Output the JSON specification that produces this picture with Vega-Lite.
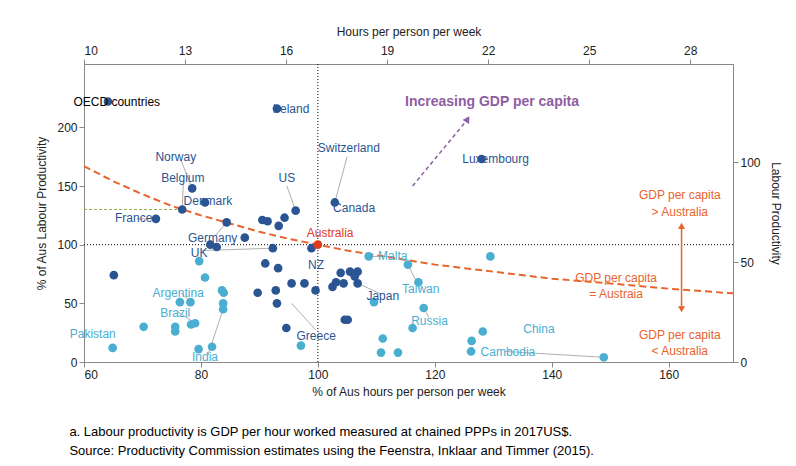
{
  "$schema": "https://vega.github.io/schema/vega-lite/v6.json",
  "width": 649,
  "height": 298,
  "autosize": "none",
  "padding": {"left": 84, "top": 64, "right": 63, "bottom": 104},
  "config": {
    "font": "Liberation Sans",
    "view": {"stroke": "#888"},
    "axis": {"grid": false, "labelFontSize": 12, "titleFontSize": 12, "titleFontWeight": "normal", "domainColor": "#888", "tickColor": "#888", "labelColor": "#222", "titleColor": "#222"}
  },
  "title": {"text": "Labour productivity and hours worked per head of populationᵃ", "fontSize": 14, "fontWeight": "bold", "offset": 34, "anchor": "middle"},
  "datasets": {
    "pts": [
      {"x": 93, "y": 216, "g": "oecd"}, {"x": 128, "y": 173, "g": "oecd"}, {"x": 78.5, "y": 148, "g": "oecd"},
      {"x": 76.8, "y": 130, "g": "oecd"}, {"x": 80.7, "y": 136, "g": "oecd"}, {"x": 72.3, "y": 122, "g": "oecd"},
      {"x": 96.2, "y": 129, "g": "oecd"}, {"x": 102.9, "y": 136, "g": "oecd"}, {"x": 84.4, "y": 119, "g": "oecd"},
      {"x": 90.5, "y": 121, "g": "oecd"}, {"x": 91.4, "y": 120, "g": "oecd"}, {"x": 94.3, "y": 123, "g": "oecd"},
      {"x": 93.3, "y": 116, "g": "oecd"}, {"x": 87.5, "y": 106, "g": "oecd"}, {"x": 81.6, "y": 100, "g": "oecd"},
      {"x": 82.7, "y": 98, "g": "oecd"}, {"x": 92.3, "y": 97, "g": "oecd"}, {"x": 98.9, "y": 97, "g": "oecd"},
      {"x": 91.0, "y": 84, "g": "oecd"}, {"x": 93.2, "y": 80, "g": "oecd"}, {"x": 89.7, "y": 59, "g": "oecd"},
      {"x": 92.8, "y": 61, "g": "oecd"}, {"x": 95.5, "y": 67, "g": "oecd"}, {"x": 97.7, "y": 67, "g": "oecd"},
      {"x": 99.6, "y": 61, "g": "oecd"}, {"x": 102.5, "y": 64, "g": "oecd"}, {"x": 103.1, "y": 68, "g": "oecd"},
      {"x": 103.9, "y": 76, "g": "oecd"}, {"x": 104.4, "y": 67, "g": "oecd"}, {"x": 105.5, "y": 77, "g": "oecd"},
      {"x": 106.3, "y": 73, "g": "oecd"}, {"x": 106.8, "y": 77, "g": "oecd"}, {"x": 106.8, "y": 67, "g": "oecd"},
      {"x": 104.6, "y": 36, "g": "oecd"}, {"x": 105.1, "y": 36, "g": "oecd"}, {"x": 94.6, "y": 29, "g": "oecd"},
      {"x": 93.0, "y": 50, "g": "oecd"}, {"x": 65.1, "y": 74, "g": "oecd"},
      {"x": 76.4, "y": 51, "g": "dev"}, {"x": 78.2, "y": 51, "g": "dev"}, {"x": 78.3, "y": 32, "g": "dev"},
      {"x": 75.6, "y": 30, "g": "dev"}, {"x": 75.6, "y": 26, "g": "dev"}, {"x": 70.2, "y": 30, "g": "dev"},
      {"x": 64.9, "y": 12, "g": "dev"}, {"x": 81.9, "y": 13, "g": "dev"}, {"x": 79.6, "y": 11, "g": "dev"},
      {"x": 79.7, "y": 86, "g": "dev"}, {"x": 80.7, "y": 72, "g": "dev"}, {"x": 79.0, "y": 33, "g": "dev"},
      {"x": 83.6, "y": 61, "g": "dev"}, {"x": 83.9, "y": 59, "g": "dev"}, {"x": 83.8, "y": 50, "g": "dev"},
      {"x": 83.8, "y": 45, "g": "dev"}, {"x": 97.1, "y": 14, "g": "dev"}, {"x": 108.7, "y": 90, "g": "dev"},
      {"x": 115.4, "y": 83, "g": "dev"}, {"x": 117.2, "y": 68, "g": "dev"}, {"x": 109.6, "y": 51, "g": "dev"},
      {"x": 116.2, "y": 29, "g": "dev"}, {"x": 118.1, "y": 46, "g": "dev"}, {"x": 111.1, "y": 20, "g": "dev"},
      {"x": 110.8, "y": 8, "g": "dev"}, {"x": 113.7, "y": 8, "g": "dev"}, {"x": 128.2, "y": 26, "g": "dev"},
      {"x": 126.3, "y": 18, "g": "dev"}, {"x": 126.2, "y": 9, "g": "dev"}, {"x": 148.9, "y": 4, "g": "dev"},
      {"x": 129.5, "y": 90, "g": "dev"}
    ],
    "labels": [
      {"t": "Ireland", "x": 95.4, "y": 216, "c": "#2b5592", "a": "left"},
      {"t": "Luxembourg", "x": 130.4, "y": 173, "c": "#2b5592", "a": "left"},
      {"t": "Norway", "x": 75.7, "y": 175, "c": "#2b5592", "a": "right"},
      {"t": "Belgium", "x": 76.9, "y": 157, "c": "#2b5592", "a": "right"},
      {"t": "Denmark", "x": 81.2, "y": 137, "c": "#2b5592", "a": "left"},
      {"t": "France", "x": 68.5, "y": 123, "c": "#2b5592", "a": "right"},
      {"t": "US", "x": 94.7, "y": 157, "c": "#2b5592", "a": "center"},
      {"t": "Switzerland", "x": 105.3, "y": 182, "c": "#2b5592", "a": "center"},
      {"t": "Canada", "x": 106.2, "y": 131, "c": "#2b5592", "a": "left"},
      {"t": "Germany", "x": 82, "y": 106, "c": "#2b5592", "a": "right"},
      {"t": "Australia", "x": 102.1, "y": 110, "c": "#e03a1e", "a": "left"},
      {"t": "UK", "x": 79.7, "y": 93, "c": "#2b5592", "a": "right"},
      {"t": "NZ", "x": 99.7, "y": 83, "c": "#2b5592", "a": "center"},
      {"t": "Malta", "x": 112.8, "y": 90, "c": "#4aaed1", "a": "left"},
      {"t": "Taiwan", "x": 117.6, "y": 62, "c": "#4aaed1", "a": "left"},
      {"t": "Japan", "x": 111.1, "y": 56, "c": "#2b5592", "a": "left"},
      {"t": "Russia", "x": 119.1, "y": 35, "c": "#4aaed1", "a": "left"},
      {"t": "Argentina", "x": 76.1, "y": 59, "c": "#4aaed1", "a": "right"},
      {"t": "Brazil", "x": 75.6, "y": 42, "c": "#4aaed1", "a": "right"},
      {"t": "Pakistan", "x": 61.5, "y": 24, "c": "#4aaed1", "a": "left"},
      {"t": "India", "x": 80.7, "y": 4.5, "c": "#4aaed1", "a": "right"},
      {"t": "Greece", "x": 99.7, "y": 22, "c": "#2b5592", "a": "center"},
      {"t": "China", "x": 137.8, "y": 28, "c": "#4aaed1", "a": "left"},
      {"t": "Cambodia", "x": 132.5, "y": 8.5, "c": "#4aaed1", "a": "left"},
      {"t": "OECD countries", "x": 65.6, "y": 222, "c": "#000000", "a": "left"},
      {"t": "GDP per capita", "x": 161.9, "y": 142, "c": "#e8642c", "a": "center"},
      {"t": " > Australia", "x": 161.9, "y": 128, "c": "#e8642c", "a": "center"},
      {"t": "GDP per capita", "x": 151, "y": 72, "c": "#e8642c", "a": "center"},
      {"t": "= Austraia", "x": 151, "y": 58, "c": "#e8642c", "a": "center"},
      {"t": "GDP per capita", "x": 161.9, "y": 23, "c": "#e8642c", "a": "center"},
      {"t": "< Australia", "x": 161.9, "y": 9, "c": "#e8642c", "a": "center"}
    ],
    "leaders": [
      {"x": 76.5, "y": 173, "x2": 78.5, "y2": 148},
      {"x": 77, "y": 154, "x2": 76.8, "y2": 130},
      {"x": 94.7, "y": 150, "x2": 96.2, "y2": 129},
      {"x": 105, "y": 175, "x2": 102.9, "y2": 136},
      {"x": 69, "y": 122, "x2": 72.3, "y2": 122},
      {"x": 82.5, "y": 108, "x2": 84.4, "y2": 119},
      {"x": 80.2, "y": 95, "x2": 92.3, "y2": 97},
      {"x": 76.6, "y": 59, "x2": 78.2, "y2": 51},
      {"x": 76, "y": 43, "x2": 79, "y2": 33},
      {"x": 81.2, "y": 6, "x2": 83.8, "y2": 45},
      {"x": 99.7, "y": 27, "x2": 95.5, "y2": 50},
      {"x": 110.8, "y": 58, "x2": 106.8, "y2": 67},
      {"x": 112.3, "y": 90, "x2": 108.7, "y2": 90},
      {"x": 119, "y": 38, "x2": 118.1, "y2": 46},
      {"x": 117.5, "y": 62, "x2": 115.4, "y2": 83},
      {"x": 132, "y": 9, "x2": 148.9, "y2": 4}
    ],
    "curve": [
      {"x": 60, "y": 167}, {"x": 65, "y": 154}, {"x": 70, "y": 143}, {"x": 75, "y": 133}, {"x": 80, "y": 125},
      {"x": 85, "y": 118}, {"x": 90, "y": 111}, {"x": 95, "y": 105}, {"x": 100, "y": 100}, {"x": 105, "y": 95},
      {"x": 110, "y": 91}, {"x": 115, "y": 87}, {"x": 120, "y": 83}, {"x": 130, "y": 77}, {"x": 140, "y": 71},
      {"x": 150, "y": 67}, {"x": 160, "y": 62.5}, {"x": 171, "y": 58.5}
    ]
  },
  "layer": [
    {
      "layer": [
        {
          "data": {"values": [{"x": 60, "x2": 171, "y": 100}]},
          "mark": {"type": "rule", "color": "#000", "strokeDash": [1, 2], "strokeWidth": 1},
          "encoding": {
            "x": {"field": "x", "type": "quantitative", "scale": {"domain": [60, 171], "nice": false}, "axis": {"values": [60, 80, 100, 120, 140, 160], "title": "% of Aus hours per person per week", "titlePadding": 6}},
            "x2": {"field": "x2"},
            "y": {"field": "y", "type": "quantitative", "scale": {"domain": [0, 254], "nice": false}, "axis": {"values": [0, 50, 100, 150, 200], "title": "% of Aus Labour Productivity", "titlePadding": 8}}
          }
        },
        {
          "data": {"values": [{"x": 100, "y": 0, "y2": 254}]},
          "mark": {"type": "rule", "color": "#000", "strokeDash": [1, 2]},
          "encoding": {"x": {"field": "x", "type": "quantitative"}, "y": {"field": "y", "type": "quantitative"}, "y2": {"field": "y2"}}
        },
        {
          "data": {"values": [{"x": 60, "x2": 76.8, "y": 130}]},
          "mark": {"type": "rule", "color": "#8db04a", "strokeDash": [3, 2]},
          "encoding": {"x": {"field": "x", "type": "quantitative"}, "x2": {"field": "x2"}, "y": {"field": "y", "type": "quantitative"}}
        },
        {
          "data": {"name": "curve"},
          "mark": {"type": "line", "color": "#e8642c", "strokeDash": [7, 4], "strokeWidth": 2},
          "encoding": {"x": {"field": "x", "type": "quantitative"}, "y": {"field": "y", "type": "quantitative"}}
        },
        {
          "data": {"name": "leaders"},
          "mark": {"type": "rule", "color": "#999", "strokeWidth": 0.8},
          "encoding": {"x": {"field": "x", "type": "quantitative"}, "y": {"field": "y", "type": "quantitative"}, "x2": {"field": "x2"}, "y2": {"field": "y2"}}
        },
        {
          "data": {"name": "pts"},
          "mark": {"type": "circle", "size": 75, "opacity": 1},
          "encoding": {
            "x": {"field": "x", "type": "quantitative"},
            "y": {"field": "y", "type": "quantitative"},
            "color": {"field": "g", "type": "nominal", "scale": {"domain": ["oecd", "dev"], "range": ["#2b5592", "#4aaed1"]}, "legend": null}
          }
        },
        {
          "data": {"values": [{"x": 100, "y": 100, "c": "#e03a1e"}, {"x": 64.1, "y": 222, "c": "#2b5592"}]},
          "mark": {"type": "circle", "size": 75, "opacity": 1},
          "encoding": {"x": {"field": "x", "type": "quantitative"}, "y": {"field": "y", "type": "quantitative"}, "color": {"field": "c", "type": "nominal", "scale": null}}
        },
        {
          "data": {"name": "labels"},
          "mark": {"type": "text", "fontSize": 12, "baseline": "middle"},
          "encoding": {
            "x": {"field": "x", "type": "quantitative"},
            "y": {"field": "y", "type": "quantitative"},
            "text": {"field": "t"},
            "align": {"field": "a", "type": "nominal", "scale": null},
            "color": {"field": "c", "type": "nominal", "scale": null}
          }
        },
        {
          "data": {"values": [{"x": 114.9, "y": 222, "t": "Increasing GDP per capita"}]},
          "mark": {"type": "text", "fontSize": 14, "fontWeight": "bold", "color": "#8e5ea2", "align": "left"},
          "encoding": {"x": {"field": "x", "type": "quantitative"}, "y": {"field": "y", "type": "quantitative"}, "text": {"field": "t"}}
        },
        {
          "data": {"values": [{"x": 116.2, "y": 150, "x2": 125.3, "y2": 205}]},
          "mark": {"type": "rule", "color": "#8e5ea2", "strokeDash": [4, 3], "strokeWidth": 1.5},
          "encoding": {"x": {"field": "x", "type": "quantitative"}, "y": {"field": "y", "type": "quantitative"}, "x2": {"field": "x2"}, "y2": {"field": "y2"}}
        },
        {
          "data": {"values": [{"x": 125.6, "y": 207, "a": 31}]},
          "mark": {"type": "point", "shape": "triangle-up", "filled": true, "color": "#8e5ea2", "size": 60, "opacity": 1},
          "encoding": {"x": {"field": "x", "type": "quantitative"}, "y": {"field": "y", "type": "quantitative"}, "angle": {"field": "a", "type": "quantitative", "scale": null}}
        },
        {
          "data": {"values": [{"x": 162.2, "y": 46, "y2": 116}]},
          "mark": {"type": "rule", "color": "#e8642c", "strokeWidth": 1.5},
          "encoding": {"x": {"field": "x", "type": "quantitative"}, "y": {"field": "y", "type": "quantitative"}, "y2": {"field": "y2"}}
        },
        {
          "data": {"values": [{"x": 162.2, "y": 116, "s": "triangle-up"}, {"x": 162.2, "y": 45, "s": "triangle-down"}]},
          "mark": {"type": "point", "filled": true, "color": "#e8642c", "size": 50, "opacity": 1},
          "encoding": {"x": {"field": "x", "type": "quantitative"}, "y": {"field": "y", "type": "quantitative"}, "shape": {"field": "s", "type": "nominal", "scale": null}}
        },
        {
          "data": {"values": [{"x": 57.5, "y": -59.6, "t": "a. Labour productivity is GDP per hour worked measured at chained PPPs in 2017US$."}, {"x": 57.5, "y": -75.7, "t": "Source: Productivity Commission estimates using the Feenstra, Inklaar and Timmer (2015)."}]},
          "mark": {"type": "text", "fontSize": 13, "align": "left", "color": "#000"},
          "encoding": {"x": {"field": "x", "type": "quantitative"}, "y": {"field": "y", "type": "quantitative"}, "text": {"field": "t"}}
        }
      ]
    },
    {
      "data": {"values": [{"h": 10, "p": 0}]},
      "mark": {"type": "point", "opacity": 0},
      "encoding": {
        "x": {"field": "h", "type": "quantitative", "scale": {"domain": [10, 29.27], "nice": false}, "axis": {"orient": "top", "values": [10, 13, 16, 19, 22, 25, 28], "title": "Hours per person per week", "titlePadding": 6}},
        "y": {"field": "p", "type": "quantitative", "scale": {"domain": [0, 149], "nice": false}, "axis": {"orient": "right", "values": [0, 50, 100], "title": "Labour Productivity", "titlePadding": 8}}
      }
    }
  ],
  "resolve": {"scale": {"x": "independent", "y": "independent"}}
}
